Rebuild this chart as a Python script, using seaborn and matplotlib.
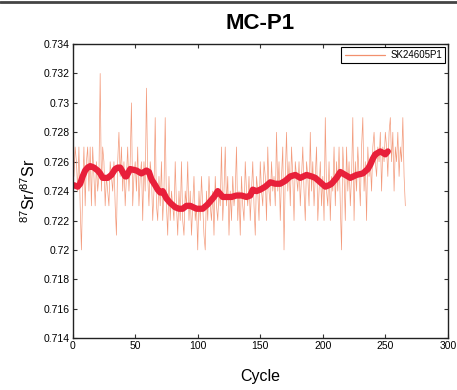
import numpy as np
import pandas as pd
import matplotlib
matplotlib.use("Agg")
import matplotlib.pyplot as plt
import seaborn as sns
from matplotlib.lines import Line2D

title = "MC-P1"
series_name = "SK24605P1"
x_label = "Cycle"
y_label = "$^{87}$Sr/$^{87}$Sr"
x_ticks = [0, 50, 100, 150, 200, 250, 300]
y_ticks = [0.714, 0.716, 0.718, 0.72, 0.722, 0.724, 0.726, 0.728, 0.73, 0.732, 0.734]

raw_values = [
    0.725, 0.727, 0.726, 0.724, 0.727, 0.723, 0.720, 0.724, 0.727, 0.723,
    0.726, 0.727, 0.724, 0.727, 0.723, 0.727, 0.725, 0.723, 0.726, 0.724,
    0.725, 0.732, 0.724, 0.727, 0.726, 0.723, 0.725, 0.724, 0.723, 0.726,
    0.725, 0.724, 0.726, 0.723, 0.721, 0.726, 0.728, 0.725, 0.727, 0.724,
    0.726, 0.723, 0.725, 0.727, 0.724, 0.726, 0.730, 0.723, 0.725, 0.726,
    0.724, 0.727, 0.723, 0.725, 0.726, 0.722, 0.726, 0.724, 0.731, 0.725,
    0.723, 0.726, 0.725, 0.722, 0.724, 0.729, 0.723, 0.722, 0.725, 0.723,
    0.726, 0.722, 0.724, 0.729, 0.723, 0.721, 0.725, 0.722, 0.724, 0.723,
    0.722, 0.726, 0.723, 0.721, 0.724, 0.722, 0.726, 0.722, 0.721, 0.724,
    0.723, 0.726, 0.722, 0.724, 0.721, 0.723, 0.725, 0.722, 0.723, 0.720,
    0.724, 0.722, 0.725, 0.723, 0.721, 0.720, 0.724, 0.722, 0.725, 0.723,
    0.722, 0.724, 0.721, 0.725, 0.723, 0.722, 0.724, 0.723, 0.727, 0.722,
    0.724, 0.727, 0.723, 0.725, 0.721, 0.724, 0.722, 0.725, 0.723, 0.724,
    0.727, 0.722, 0.724, 0.721, 0.725, 0.723, 0.722, 0.726, 0.724, 0.723,
    0.725, 0.722, 0.724, 0.726, 0.723, 0.721, 0.725, 0.724, 0.722, 0.726,
    0.724, 0.723, 0.726, 0.725, 0.722, 0.727, 0.724, 0.723, 0.726, 0.724,
    0.725, 0.723, 0.728, 0.724, 0.726, 0.722, 0.725, 0.727, 0.720, 0.725,
    0.728, 0.724, 0.726, 0.723, 0.727, 0.725, 0.722, 0.726, 0.725, 0.724,
    0.726, 0.723, 0.725, 0.727, 0.724, 0.722, 0.726, 0.725, 0.723, 0.728,
    0.724, 0.726, 0.723, 0.725, 0.727, 0.722, 0.724, 0.726, 0.723, 0.725,
    0.722, 0.729, 0.724, 0.723, 0.726, 0.722, 0.725, 0.724, 0.727, 0.723,
    0.726, 0.724, 0.727, 0.723, 0.720, 0.727, 0.725, 0.722, 0.727, 0.724,
    0.726, 0.723, 0.725, 0.729, 0.722, 0.726, 0.724, 0.727, 0.725, 0.723,
    0.727, 0.729, 0.724, 0.726, 0.722, 0.727, 0.725, 0.726, 0.724, 0.727,
    0.728, 0.726, 0.725, 0.727, 0.726, 0.728, 0.724, 0.727, 0.726, 0.728,
    0.727, 0.725, 0.728, 0.729, 0.726, 0.728, 0.724, 0.727, 0.726, 0.728,
    0.725, 0.727, 0.726, 0.729, 0.725, 0.723,
]
raw_cycles = list(range(1, len(raw_values) + 1))

smooth_cycles = [1, 4, 6, 8, 10, 12, 14, 17, 20, 22, 24, 28, 31, 34, 36, 38, 40, 42, 43, 46,
                 51, 55, 59, 61, 63, 66, 68, 70, 72, 75, 78, 82, 85, 88, 91, 94, 99, 104, 108, 110,
                 113, 116, 118, 120, 124, 127, 131, 135, 139, 142, 144, 147, 150, 154, 158, 162, 166, 170, 174, 178,
                 182, 187, 191, 194, 198, 202, 205, 207, 211, 214, 218, 222, 227, 232, 236, 238, 240, 242, 244, 246,
                 248, 250, 252]
smooth_values = [0.7244, 0.7243, 0.7245, 0.7250, 0.7254, 0.7256, 0.7257, 0.7256, 0.7254, 0.7252,
                 0.7249, 0.7249, 0.7251, 0.7255, 0.7256, 0.7256, 0.7253, 0.7250, 0.7250, 0.7255,
                 0.7254, 0.7252, 0.7254, 0.7253, 0.7248, 0.7244, 0.7241, 0.7239, 0.7240, 0.7235,
                 0.7232, 0.7229, 0.7228, 0.7228, 0.7230, 0.7230, 0.7228, 0.7228, 0.7231, 0.7233,
                 0.7236, 0.7240, 0.7238, 0.7236, 0.7236, 0.7236, 0.7237, 0.7237, 0.7236, 0.7237,
                 0.7241, 0.7240, 0.7241, 0.7243, 0.7246, 0.7245, 0.7245, 0.7247, 0.7250, 0.7251,
                 0.7249, 0.7251, 0.7250, 0.7249, 0.7246, 0.7243, 0.7244, 0.7245, 0.7249, 0.7253,
                 0.7251, 0.7249, 0.7251, 0.7252, 0.7255, 0.7258, 0.7262, 0.7265, 0.7266, 0.7267,
                 0.7266, 0.7265, 0.7267]

raw_df = pd.DataFrame({"cycle": raw_cycles, "ratio": raw_values})
smooth_df = pd.DataFrame({"cycle": smooth_cycles, "ratio": smooth_values})

sns.set_theme(style="white")
plt.rcParams["font.family"] = ["Liberation Sans", "DejaVu Sans"]
plt.rcParams["mathtext.fontset"] = "custom"
plt.rcParams["mathtext.rm"] = "Liberation Sans"
plt.rcParams["text.color"] = "black"
plt.rcParams["axes.labelcolor"] = "black"
plt.rcParams["xtick.color"] = "black"
plt.rcParams["ytick.color"] = "black"

fig = plt.figure(figsize=(4.57, 3.90), dpi=100)
ax = fig.add_axes([0.159, 0.133, 0.821, 0.754])

raw_color = "#f2906e"
smooth_color = "#e8203a"

sns.lineplot(data=raw_df, x="cycle", y="ratio", ax=ax, color=raw_color, lw=0.5, alpha=0.9,
             estimator=None, sort=False, legend=False)
sns.lineplot(data=smooth_df, x="cycle", y="ratio", ax=ax, color=smooth_color, lw=4.5,
             estimator=None, sort=False, legend=False, solid_capstyle="round")

ax.set_xlim(0, 300)
ax.set_ylim(0.714, 0.734)
ax.set_xticks(x_ticks)
ax.set_yticks(y_ticks)
ax.set_xticklabels([str(t) for t in x_ticks])
ax.set_yticklabels([("%.3f" % t).rstrip("0") for t in y_ticks])
ax.tick_params(direction="in", length=3, width=0.8, labelsize=7.5, top=True, right=True,
               bottom=True, left=True, colors="#333333", labelcolor="black", pad=2)
for s in ax.spines.values():
    s.set_visible(True)
    s.set_color("#222222")
    s.set_linewidth(1.0)

ax.set_title(title, fontsize=16, fontweight="bold", pad=11, color="black")
ax.set_xlabel(x_label, fontsize=11.5, labelpad=13, color="black")
ax.set_ylabel(y_label, fontsize=11.5, labelpad=4, color="black")

handle = Line2D([0], [0], color=raw_color, lw=0.9)
leg = ax.legend([handle], [series_name], loc="upper right", fontsize=7, frameon=True,
                fancybox=False, framealpha=1, edgecolor="black", borderpad=0.35,
                handlelength=4.2, handletextpad=0.5, borderaxespad=0.25)
leg.get_frame().set_linewidth(0.8)

fig.add_artist(Line2D([0, 1], [0.995, 0.995], transform=fig.transFigure, color="#444444", lw=2))

fig.savefig("out.png", dpi=100)
